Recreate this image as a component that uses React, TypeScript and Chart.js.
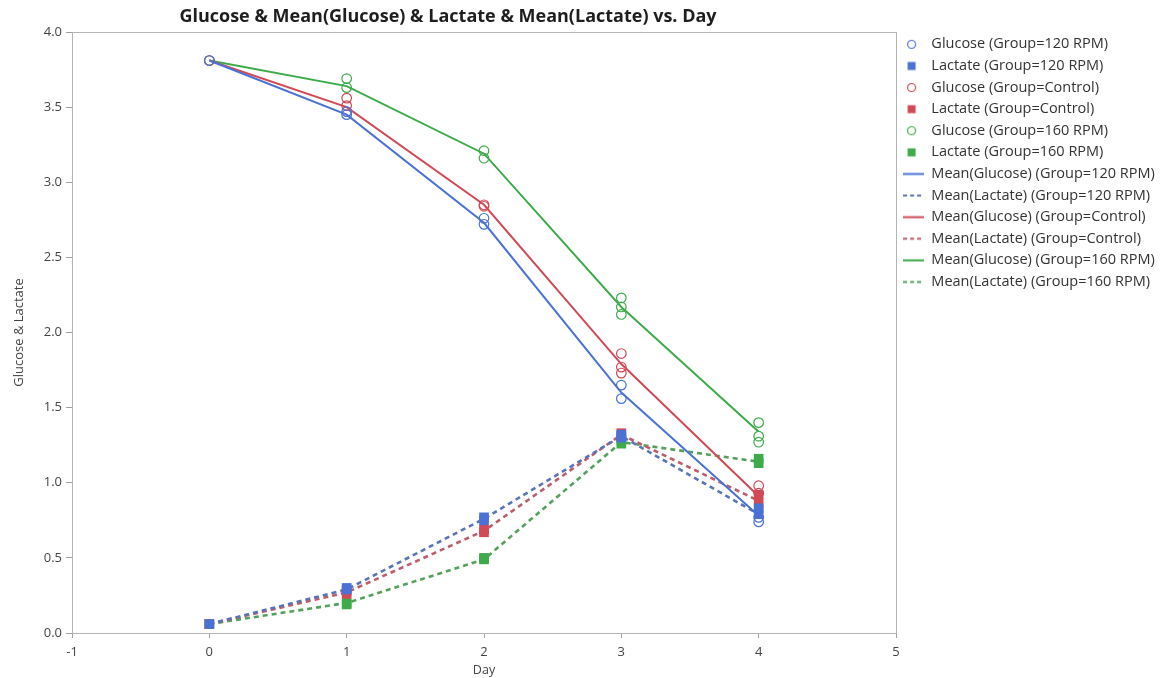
import React, { useEffect, useRef } from 'react';
import { Chart, registerables } from 'chart.js';

Chart.register(...registerables);

// ---------- data ----------
const days = [0, 1, 2, 3, 4];

// replicate measurements per day (index = day)
const glucose120 = [[3.81], [3.47, 3.45], [2.76, 2.72], [1.65, 1.56], [0.77, 0.74]];
const lactate120 = [[0.06], [0.3, 0.29], [0.77, 0.75], [1.32, 1.3], [0.83, 0.79]];
const glucoseControl = [[3.81], [3.56, 3.51], [2.85, 2.84], [1.86, 1.77, 1.73], [0.98, 0.93]];
const lactateControl = [[0.06], [0.28, 0.26], [0.69, 0.67], [1.33, 1.31], [0.92, 0.86]];
const glucose160 = [[3.81], [3.69, 3.63], [3.21, 3.16], [2.23, 2.17, 2.12], [1.4, 1.31, 1.27]];
const lactate160 = [[0.06], [0.2, 0.19], [0.5, 0.49], [1.28, 1.26], [1.16, 1.13]];

// means per day
const meanGlucose120 = [3.81, 3.45, 2.73, 1.6, 0.78];
const meanLactate120 = [0.06, 0.29, 0.76, 1.31, 0.79];
const meanGlucoseControl = [3.81, 3.5, 2.85, 1.79, 0.91];
const meanLactateControl = [0.06, 0.27, 0.68, 1.32, 0.88];
const meanGlucose160 = [3.81, 3.64, 3.19, 2.17, 1.34];
const meanLactate160 = [0.06, 0.2, 0.49, 1.27, 1.14];

const seriesLabels = [
  'Glucose (Group=120 RPM)',
  'Lactate (Group=120 RPM)',
  'Glucose (Group=Control)',
  'Lactate (Group=Control)',
  'Glucose (Group=160 RPM)',
  'Lactate (Group=160 RPM)',
  'Mean(Glucose) (Group=120 RPM)',
  'Mean(Lactate) (Group=120 RPM)',
  'Mean(Glucose) (Group=Control)',
  'Mean(Lactate) (Group=Control)',
  'Mean(Glucose) (Group=160 RPM)',
  'Mean(Lactate) (Group=160 RPM)',
];

const titleText = 'Glucose & Mean(Glucose) & Lactate & Mean(Lactate) vs. Day';
const xTitle = 'Day';
const yTitle = 'Glucose & Lactate';

// ---------- styles ----------
const BLUE = '#4a72d4';
const RED = '#d14a56';
const GREEN = '#3dab4a';
const BLUE_D = '#5b74b6';
const RED_D = '#bb5d6b';
const GREEN_D = '#55a05c';
const FONT = "'Open Sans', 'Noto Sans', sans-serif";

const toPoints = (reps: number[][]) =>
  reps.flatMap((vals, i) => vals.map((v) => ({ x: days[i], y: v })));
const toLine = (vals: number[]) => vals.map((v, i) => ({ x: days[i], y: v }));

function makeIcon(kind: 'circle' | 'square' | 'line' | 'dash', color: string): HTMLCanvasElement {
  const c = document.createElement('canvas');
  c.width = 21;
  c.height = 13;
  const ctx = c.getContext('2d') as CanvasRenderingContext2D;
  if (kind === 'circle') {
    ctx.strokeStyle = color;
    ctx.lineWidth = 1.2;
    ctx.beginPath();
    ctx.arc(8.5, 6.5, 4, 0, Math.PI * 2);
    ctx.stroke();
  } else if (kind === 'square') {
    ctx.fillStyle = color;
    ctx.fillRect(4.5, 2.5, 8, 8);
  } else {
    ctx.strokeStyle = color;
    ctx.lineWidth = 2;
    if (kind === 'dash') ctx.setLineDash([4, 3]);
    ctx.beginPath();
    ctx.moveTo(0, 6.5);
    ctx.lineTo(21, 6.5);
    ctx.stroke();
  }
  return c;
}

const extrasPlugin = {
  id: 'extras',
  afterLayout(chart: any) {
    if (chart.legend) {
      chart.legend.top -= 2;
      chart.legend.bottom -= 2;
    }
  },
  beforeDatasetsDraw(chart: any) {
    const { ctx, chartArea } = chart;
    ctx.save();
    ctx.strokeStyle = '#b4b4b4';
    ctx.lineWidth = 1;
    ctx.strokeRect(chartArea.left + 0.5, chartArea.top + 0.5, chartArea.right - chartArea.left, chartArea.bottom - chartArea.top);
    ctx.restore();
  },
  afterDraw(chart: any) {
    const { ctx, chartArea } = chart;
    ctx.save();
    ctx.font = `bold 18px ${FONT}`;
    ctx.fillStyle = '#1e1e1e';
    ctx.textAlign = 'center';
    ctx.textBaseline = 'middle';
    ctx.fillText(titleText, chartArea.right / 2, 17);
    ctx.restore();
  },
};

export default function App() {
  const ref = useRef<HTMLCanvasElement | null>(null);

  useEffect(() => {
    if (!ref.current) return;

    const icons = [
      makeIcon('circle', BLUE),
      makeIcon('square', BLUE),
      makeIcon('circle', RED),
      makeIcon('square', RED),
      makeIcon('circle', GREEN),
      makeIcon('square', GREEN),
      makeIcon('line', BLUE),
      makeIcon('dash', BLUE_D),
      makeIcon('line', RED),
      makeIcon('dash', RED_D),
      makeIcon('line', GREEN),
      makeIcon('dash', GREEN_D),
    ];

    const circle = (data: any, color: string, label: string) => ({
      type: 'scatter' as const,
      label,
      data,
      showLine: false,
      pointStyle: 'circle',
      pointRadius: 4.8,
      borderColor: color,
      backgroundColor: 'rgba(255,255,255,0)',
      pointBorderWidth: 1.2,
    });
    const square = (data: any, color: string, label: string) => ({
      type: 'scatter' as const,
      label,
      data,
      showLine: false,
      pointStyle: 'rect',
      pointRadius: 6.8,
      borderColor: color,
      backgroundColor: color,
      pointBorderWidth: 0,
    });
    const line = (data: any, color: string, label: string, dashed: boolean) => ({
      type: 'line' as const,
      label,
      data,
      showLine: true,
      pointRadius: 0,
      borderColor: color,
      backgroundColor: color,
      borderWidth: dashed ? 2.6 : 2,
      borderDash: dashed ? [5, 4] : [],
      tension: 0,
    });

    const datasets: any[] = [
      circle(toPoints(glucose120), BLUE, seriesLabels[0]),
      square(toPoints(lactate120), BLUE, seriesLabels[1]),
      circle(toPoints(glucoseControl), RED, seriesLabels[2]),
      square(toPoints(lactateControl), RED, seriesLabels[3]),
      circle(toPoints(glucose160), GREEN, seriesLabels[4]),
      square(toPoints(lactate160), GREEN, seriesLabels[5]),
      line(toLine(meanGlucose120), BLUE, seriesLabels[6], false),
      line(toLine(meanLactate120), BLUE_D, seriesLabels[7], true),
      line(toLine(meanGlucoseControl), RED, seriesLabels[8], false),
      line(toLine(meanLactateControl), RED_D, seriesLabels[9], true),
      line(toLine(meanGlucose160), GREEN, seriesLabels[10], false),
      line(toLine(meanLactate160), GREEN_D, seriesLabels[11], true),
    ];

    const tickFont = { family: FONT, size: 13 };

    const chart = new Chart(ref.current, {
      type: 'scatter',
      data: { datasets },
      plugins: [extrasPlugin],
      options: {
        animation: false,
        responsive: false,
        maintainAspectRatio: false,
        layout: { padding: { top: 32, left: 0, right: 0, bottom: 0 } },
        plugins: {
          title: { display: false },
          tooltip: { enabled: false },
          legend: {
            position: 'right',
            align: 'start',
            maxWidth: 268,
            labels: {
              usePointStyle: true,
              pointStyleWidth: 21,
              boxHeight: 14.5,
              padding: 7.1,
              color: '#333',
              font: { family: FONT, size: 14.5 },
              generateLabels: (ch: any) =>
                ch.data.datasets.map((ds: any, i: number) => ({
                  text: ds.label,
                  pointStyle: icons[i],
                  datasetIndex: i,
                  hidden: false,
                  fontColor: '#333',
                  lineWidth: 0,
                  fillStyle: 'transparent',
                  strokeStyle: 'transparent',
                })),
            },
          },
        },
        scales: {
          x: {
            type: 'linear',
            min: -1,
            max: 5,
            afterFit: (s: any) => {
              s.height = 45;
            },
            ticks: { stepSize: 1, color: '#444', font: tickFont, padding: 6 },
            grid: { drawOnChartArea: false, drawTicks: true, tickLength: 5, color: '#a0a0a0' },
            border: { color: '#b4b4b4' },
            title: { display: true, text: xTitle, color: '#444', font: { family: FONT, size: 12.5 }, padding: { top: 0, bottom: 0 } },
          },
          y: {
            type: 'linear',
            min: 0,
            max: 4,
            afterFit: (s: any) => {
              s.width = 72;
            },
            ticks: {
              stepSize: 0.5,
              color: '#444',
              font: tickFont,
              padding: 4,
              callback: (v: any) => Number(v).toFixed(1),
            },
            grid: { drawOnChartArea: false, drawTicks: true, tickLength: 6, color: '#a0a0a0' },
            border: { color: '#b4b4b4' },
            title: { display: true, text: yTitle, color: '#444', font: { family: FONT, size: 13 }, padding: { top: 11, bottom: 0 } },
          },
        },
      },
    } as any);

    return () => chart.destroy();
  }, []);

  return (
    <div style={{ position: 'fixed', left: 0, top: 0, width: 1164, height: 678, background: '#fff' }}>
      <canvas ref={ref} width={1164} height={678} style={{ width: 1164, height: 678, display: 'block' }} />
    </div>
  );
}
